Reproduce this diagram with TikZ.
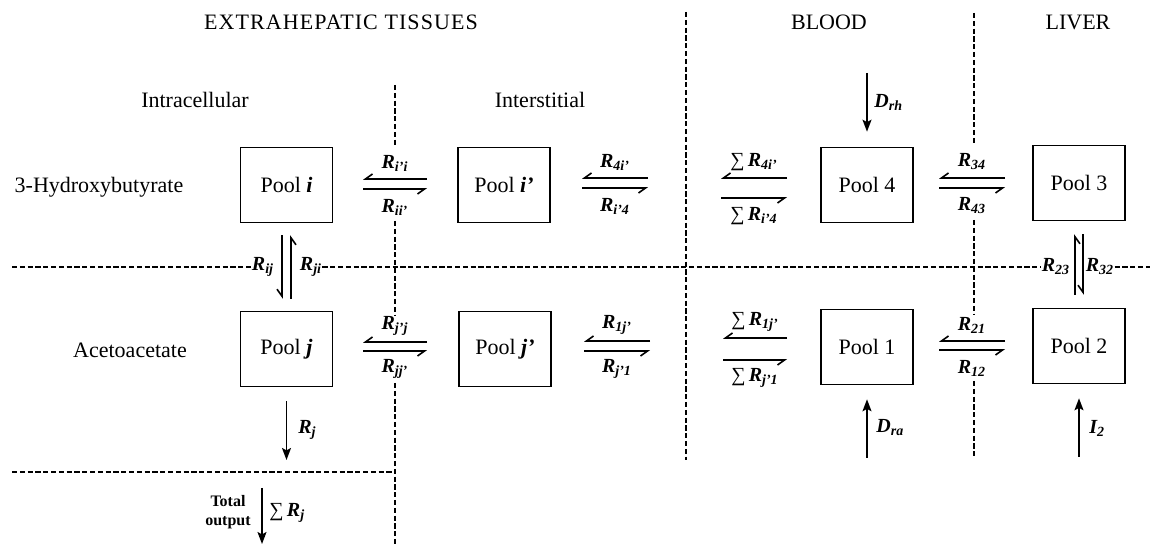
\documentclass[tikz,border=0pt]{standalone}
\usepackage{fontspec}
\setmainfont{Liberation Serif}
\usetikzlibrary{arrows.meta,calc}
\newcommand\bi[1]{\textbf{\textit{#1}}}
\newcommand\Rl[1]{\bi{R\textsubscript{#1}}}
\newcommand\hpair[7]{%
  \coordinate (#1TL) at ({#2-#3},#4);
  \coordinate (#1TR) at ({#2+#3},#4);
  \coordinate (#1BL) at ({#2-#3},#5);
  \coordinate (#1BR) at ({#2+#3},#5);
  \draw[harp] (#1TR) -- (#1TL);
  \draw[harp] (#1BL) -- (#1BR);
  \node[lab] (#1T) at (#2,#4-16) {#6};
  \node[lab] (#1B) at (#2,#5+18) {#7};
}
\tikzset{
  pool/.style={draw, line width=0.8pt, minimum width=46pt, minimum height=37.5pt, inner sep=0pt, font=\fontsize{11}{13}\selectfont},
  divider/.style={line width=1.1pt, dash pattern=on 2.6pt off 1.3pt},
  flow/.style={line width=0.8pt, -{Stealth[length=6pt,width=4.5pt,inset=1.2pt]}},
  harp/.style={line width=0.8pt, -{Straight Barb[right,length=3.5pt,width=5pt]}},
  lab/.style={inner sep=0pt, font=\fontsize{10}{12}\selectfont},
  txt/.style={inner sep=0pt, font=\fontsize{11}{13}\selectfont},
}
\begin{document}
\begin{tikzpicture}[x=0.5pt,y=-0.5pt]
\useasboundingbox (0,0) rectangle (1153,545);

% headings
\node[txt] (hExt) at (341,22) {\addfontfeature{LetterSpace=5}EXTRAHEPATIC TISSUES};
\node[txt] (hBlood) at (829,22) {BLOOD};
\node[txt] (hLiver) at (1078,22) {LIVER};
\node[txt] (hIntra) at (195,100) {Intracellular};
\node[txt] (hInter) at (540,100) {Interstitial};
\node[txt] (hHyd) at (99,187) {3-Hydroxybutyrate};
\node[txt] (hAce) at (130,350) {Acetoacetate};

% pools
\node[pool] (Pi)  at (286.5,185) {Pool \bi{i}};
\node[pool] (Pip) at (504,185) {Pool \bi{i'}};
\node[pool] (P4)  at (867,185) {Pool 4};
\node[pool] (P3)  at (1079,183) {Pool 3};
\node[pool] (Pj)  at (286.5,349) {Pool \bi{j}};
\node[pool] (Pjp) at (505,349) {Pool \bi{j'}};
\node[pool] (P1)  at (867,347) {Pool 1};
\node[pool] (P2)  at (1079,346) {Pool 2};

% horizontal exchange pairs
\hpair{ii}{395}{32}{179}{189}{\Rl{i'i}}{\Rl{ii'}}
\hpair{iq}{615}{33}{178}{188}{\Rl{4i'}}{\Rl{i'4}}
\hpair{sa}{754}{33}{178}{198}{∑\,\Rl{4i'}}{∑\,\Rl{i'4}}
\hpair{tf}{972}{33}{178}{188}{\Rl{34}}{\Rl{43}}
\hpair{jj}{395}{32}{342}{351}{\Rl{j'j}}{\Rl{jj'}}
\hpair{jq}{617}{33}{341}{351}{\Rl{1j'}}{\Rl{j'1}}
\hpair{sb}{755}{32}{338}{360}{∑\,\Rl{1j'}}{∑\,\Rl{j'1}}
\hpair{to}{972}{33}{341}{350}{\Rl{21}}{\Rl{12}}

% vertical exchange pairs
\draw[harp, shorten <=6pt, shorten >=6pt] ([xshift=-2.25pt]Pi.south) -- ([xshift=-2.25pt]Pj.north);
\draw[harp, shorten <=6pt, shorten >=6pt] ([xshift=2.25pt]Pj.north) -- ([xshift=2.25pt]Pi.south);
\node[lab] (Rij) at (263,267) {\Rl{ij}};
\node[lab] (Rji) at (311,267) {\Rl{ji}};

\draw[harp, shorten <=6.5pt, shorten >=6.5pt] ([xshift=-2pt]P2.north) -- ([xshift=-2pt]P3.south);
\draw[harp, shorten <=6.5pt, shorten >=6.5pt] ([xshift=2pt]P3.south) -- ([xshift=2pt]P2.north);
\node[lab] (R23) at (1056,267) {\Rl{23}};
\node[lab] (R32) at (1100,267) {\Rl{32}};

% single flows
\coordinate (drh) at (867,73);
\draw[flow, shorten >=7.5pt] (drh) -- (P4.north);
\node[lab, anchor=west] (Ldrh) at (874,102) {\bi{D\textsubscript{rh}}};

\coordinate (dra) at (867,458);
\draw[flow, shorten >=7pt] (dra) -- (P1.south);
\node[lab, anchor=west] (Ldra) at (876,428) {\bi{D\textsubscript{ra}}};

\coordinate (itwo) at (1079,457);
\draw[flow, shorten >=7pt] (itwo) -- (P2.south);
\node[lab, anchor=west] (Litwo) at (1089,428) {\bi{I\textsubscript{2}}};

\coordinate (rjend) at (286.5,460);
\draw[flow, shorten <=7pt] (Pj.south) -- (rjend);
\node[lab, anchor=west] (Lrj) at (298,430) {\Rl{j}};

\coordinate (totA) at (262,488);
\coordinate (totB) at (262,544);
\draw[flow] (totA) -- (totB);
\node[align=center, inner sep=0pt, font=\bfseries\fontsize{8}{9.5}\selectfont] (tot) at (228,512) {Total\\output};
\node[lab, anchor=west] (Lsrj) at (269,513) {∑\,\Rl{j}};

% dividers
\draw[divider] (686,12) -- (686,460);
\draw[divider] (974,13) -- (974,143);
\draw[divider] (974,220) -- (974,315);
\draw[divider] (974,381) -- (974,457);
\draw[divider] (395,85) -- (395,145);
\draw[divider] (395,221) -- (395,315);
\draw[divider] (395,383) -- (395,545);
\draw[divider] (12,267) -- (Rij.west);
\draw[divider] (Rji.east) -- (R23.west);
\draw[divider] (R32.east) -- (1150,267);
\draw[divider] (12,472) -- (395,472);
\end{tikzpicture}
\end{document}
